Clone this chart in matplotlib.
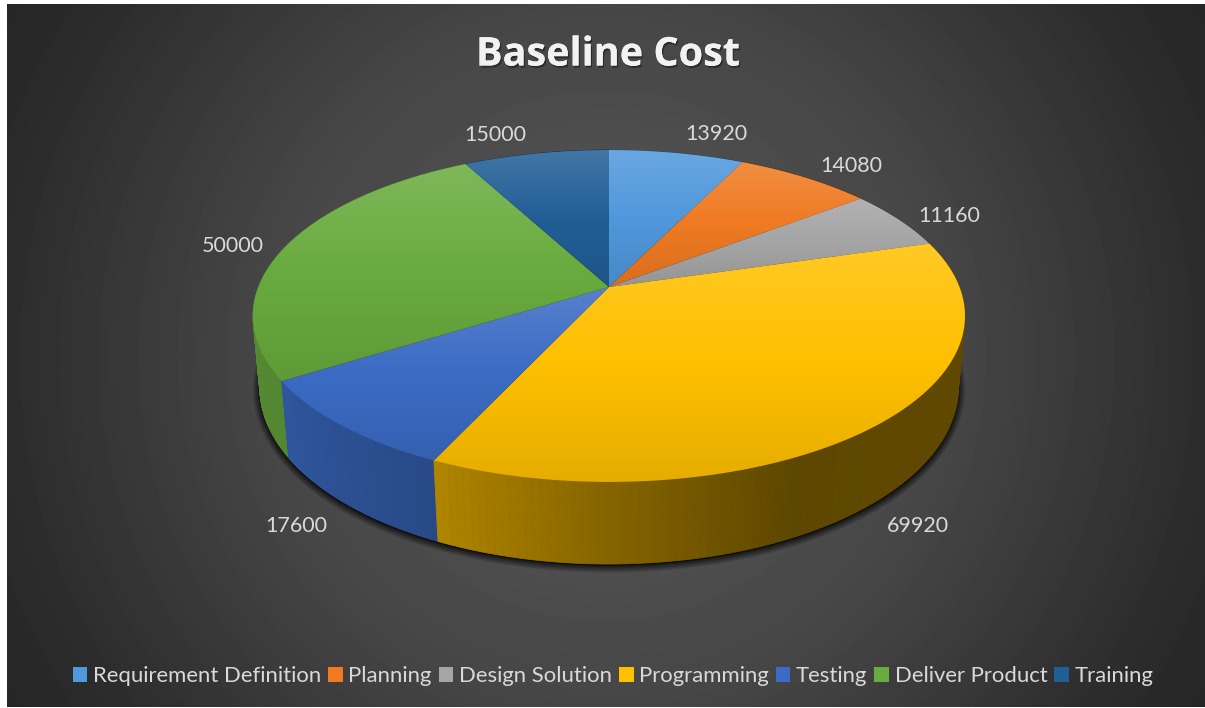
import numpy as np
import matplotlib
matplotlib.use('Agg')
import matplotlib.pyplot as plt
import matplotlib.patheffects as pe
from matplotlib.patches import Patch, Polygon
from matplotlib.path import Path

title = 'Baseline Cost'
categories = ['Requirement Definition', 'Planning', 'Design Solution', 'Programming',
              'Testing', 'Deliver Product', 'Training']
costs = [13920, 14080, 11160, 69920, 17600, 50000, 15000]
colors = ['#5098DC', '#EF7A22', '#A5A5A5', '#FFC000', '#3B6BC4', '#69AB3E', '#215E96']

# label shift from the rim point in the middle of each slice
label_dx = [40, 46, 51, 45, -46, -52, -41]
label_dy = [-19, -11, -3, 99, 100, -1, -19]

W, H = 1205, 708

# projection of the unit disc to pixels, fitted on the slice corners
CX = 609
TOP = dict(y0=287, a=160.9, b=350.5, k=0.1747)
BOTTOM = dict(y0=358, a=171.0, b=344.0, k=0.17)


def project(theta, p):
    u, v = np.sin(theta), np.cos(theta)
    w = 1 + p['k'] * v
    return CX + p['b'] * u / w, p['y0'] - p['a'] * v / w


def rgb(c):
    return np.array(matplotlib.colors.to_rgb(c))


def wall_paths(t):
    # one quad per step, so the straight silhouette between both rims gets filled
    tx, ty = project(t, TOP)
    bx, by = project(t, BOTTOM)
    quads = []
    for j in range(len(t) - 1):
        quads.append(np.array([(tx[j], ty[j]), (tx[j + 1], ty[j + 1]),
                               (bx[j + 1], by[j + 1]), (bx[j], by[j])]))
    return quads


fig = plt.figure(figsize=(W / 100, H / 100), dpi=100, facecolor='white')
ax = fig.add_axes([0, 0, 1, 1])
ax.set_axis_off()

# radial background
yy, xx = np.mgrid[4:707, 7:W]
r = np.hypot(xx - 606, yy - 355) / 695
grey = np.interp(r, [0, 0.5, 0.87, 1], [90, 70, 44, 38]) / 255
ax.imshow(grey, cmap='gray', vmin=0, vmax=1, extent=(7, W, 707, 4), aspect='auto', zorder=0)

fractions = np.array(costs) / np.sum(costs)
edges = np.concatenate([[0], np.cumsum(fractions)]) * 2 * np.pi

# soft shadow under the pie, only the lower rim sticks out
t = np.linspace(0, 2 * np.pi, 400)
bx, by = project(t, BOTTOM)
for lw in [10, 8, 6, 4.5, 3, 2]:
    ax.add_patch(Polygon(np.c_[bx, by + 1.5], closed=True, fc='black', ec='black', lw=lw,
                         alpha=0.14, joinstyle='round', zorder=1))


def gradient_fill(data, extent, path, zorder):
    im = ax.imshow(data, extent=extent, aspect='auto', interpolation='bilinear', zorder=zorder)
    im.set_clip_path(path, ax.transData)


# side walls, shade depends on x only
shade_x = [253, 282, 437, 600, 790, 965]
shade_f = [0.80, 0.80, 0.69, 0.53, 0.37, 0.38]
for i, c in enumerate(colors):
    t = np.linspace(edges[i], edges[i + 1], 120)
    for quad in wall_paths(t):
        x0, y0 = quad.min(axis=0)
        x1, y1 = quad.max(axis=0)
        f = np.interp((x0 + x1) / 2, shade_x, shade_f)
        ax.add_patch(Polygon(quad, closed=True, fc=f * rgb(c), ec=f * rgb(c), lw=0.6, zorder=2 + 0.01 * y1))

# top faces
white = np.ones(3)
for i, c in enumerate(colors):
    t = np.linspace(edges[i], edges[i + 1], 200)
    tx, ty = project(t, TOP)
    xs = np.r_[CX, tx, CX]
    ys = np.r_[TOP['y0'], ty, TOP['y0']]
    path = Path(np.c_[xs, ys], closed=True)
    y0, y1 = ys.min() - 1, ys.max() + 1
    s = np.linspace(0, 1, 200)[:, None]
    base = rgb(c)
    light = base + (white - base) * 0.15
    dark = base * 0.9
    data = np.where(s < 0.5, light + (base - light) * s * 2, base + (dark - base) * (s - 0.5) * 2)
    gradient_fill(data[:, None, :], (xs.min() - 1, xs.max() + 1, y1, y0), path, 10)

# data labels
mids = (edges[:-1] + edges[1:]) / 2
mx, my = project(mids, TOP)
for i, v in enumerate(costs):
    ax.text(mx[i] + label_dx[i], my[i] + label_dy[i], str(v), ha='center', va='center',
            fontsize=15.5, family='Lato', color='#D9D9D9', zorder=20)

ax.text(608, 55, title, ha='center', va='center', fontsize=28.5, family='Open Sans',
        fontweight='bold', color='#F2F2F2', zorder=20,
        path_effects=[pe.withSimplePatchShadow(offset=(1, -1.5), shadow_rgbFace='black', alpha=0.4),
                      pe.Normal()])

handles = [Patch(facecolor=c, edgecolor='none') for c in colors]
fig.legend(handles, categories, loc='center', bbox_to_anchor=(613 / W, 1 - 676.5 / H), ncol=7,
           frameon=False, prop={'family': 'Lato', 'size': 15.9}, labelcolor='#D9D9D9',
           handlelength=0.67, handleheight=0.67, handletextpad=0.25, columnspacing=0.31)

ax.set_xlim(0, W)
ax.set_ylim(H, 0)
fig.savefig('out.png', dpi=100, facecolor='white')
